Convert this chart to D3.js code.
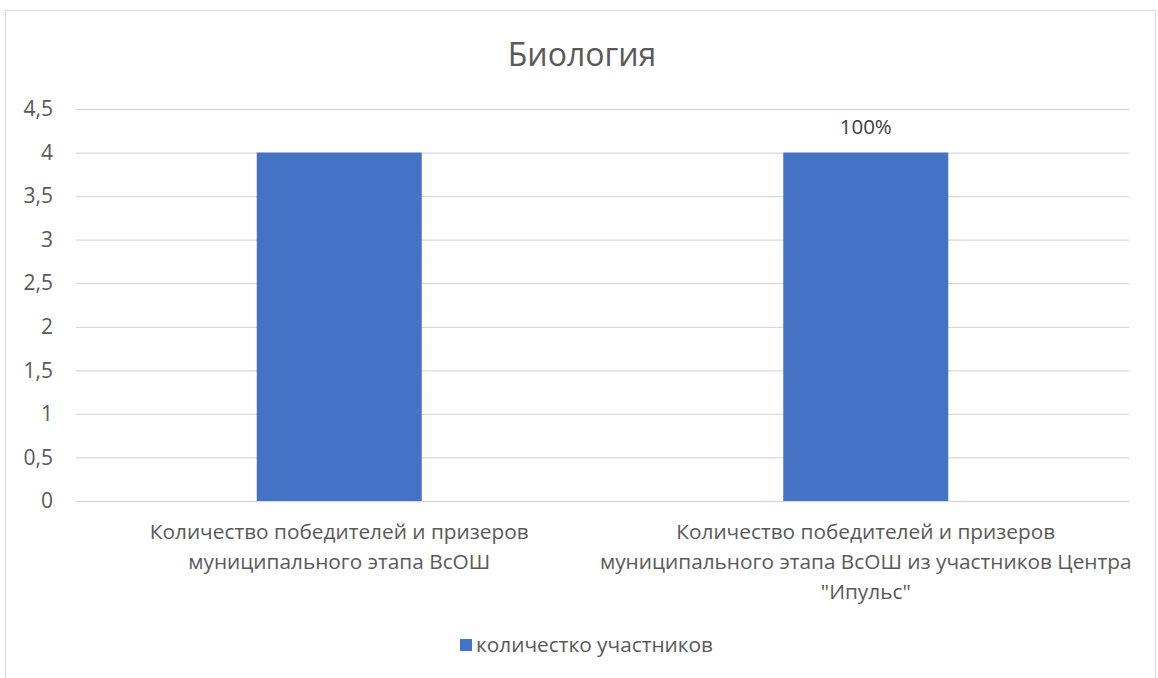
<!DOCTYPE html>
<html>
<head>
<meta charset="utf-8">
<script src="https://cdn.jsdelivr.net/npm/d3@7"></script>
<style>
  html, body { margin: 0; padding: 0; background: #fff; }
  svg { display: block; font-family: "Open Sans", "Noto Sans", sans-serif; }
</style>
</head>
<body>
<svg id="chart" width="1158" height="678"></svg>
<script>
// Chart content
const chartTitle = "Биология";
const categories = [
  ["Количество победителей и призеров", "муниципального этапа ВсОШ"],
  ["Количество победителей и призеров", "муниципального этапа ВсОШ из участников Центра", "\"Ипульс\""]
];
const seriesName = "количестко участников";
const seriesValues = [4, 4];
const yTicks = [0, 0.5, 1, 1.5, 2, 2.5, 3, 3.5, 4, 4.5];
// Share label shown above the second bar (second value relative to the first)
const labelledIndex = 1;

const svg = d3.select("#chart");
const textColor = "#595959";
const gridColor = "#d9d9d9";
const barColor = "#4472c4";

// Outer chart frame
svg.append("rect")
  .attr("x", 5.5).attr("y", 10.5)
  .attr("width", 1150).attr("height", 700)
  .attr("fill", "#fff").attr("stroke", gridColor).attr("stroke-width", 1);

const plot = { left: 76, right: 1129, top: 109, bottom: 501 };

const x = d3.scaleBand()
  .domain(d3.range(categories.length))
  .range([plot.left, plot.right])
  .paddingInner(0.6866)
  .paddingOuter(0.3433);

const y = d3.scaleLinear()
  .domain([0, d3.max(yTicks)])
  .range([plot.bottom, plot.top]);

const commaFmt = v => String(v).replace(".", ",");

// Horizontal gridlines and value labels
const yAxis = d3.axisLeft(y)
  .tickValues(yTicks)
  .tickSize(-(plot.right - plot.left))
  .tickPadding(23)
  .tickFormat(commaFmt);

const gy = svg.append("g")
  .attr("transform", `translate(${plot.left},0)`)
  .call(yAxis);
gy.select(".domain").remove();
gy.selectAll(".tick line").attr("stroke", gridColor).attr("stroke-width", 1.3);
gy.selectAll(".tick text")
  .attr("fill", textColor)
  .attr("font-size", 21)
  .attr("font-family", "'Open Sans', sans-serif");

// Bars
svg.append("g").selectAll("rect")
  .data(seriesValues)
  .join("rect")
  .attr("x", (d, i) => x(i))
  .attr("y", d => y(d))
  .attr("width", x.bandwidth())
  .attr("height", d => y(0) - y(d))
  .attr("fill", barColor);

// Data label
const pct = d3.format(".0%");
svg.append("text")
  .attr("x", x(labelledIndex) + x.bandwidth() / 2)
  .attr("y", y(seriesValues[labelledIndex]) - 19)
  .attr("text-anchor", "middle")
  .attr("fill", "#404040")
  .attr("font-size", 20.5)
  .text(pct(seriesValues[labelledIndex] / seriesValues[0]));

// Category labels (wrapped lines)
const catG = svg.append("g").selectAll("text")
  .data(categories)
  .join("text")
  .attr("text-anchor", "middle")
  .attr("fill", textColor)
  .attr("font-size", 20.8)
  .attr("transform", (d, i) => `translate(${x(i) + x.bandwidth() / 2},${plot.bottom + 38})`);
catG.selectAll("tspan")
  .data(d => d)
  .join("tspan")
  .attr("x", 0)
  .attr("dy", (d, i) => i === 0 ? 0 : 30)
  .text(d => d);

// Title
svg.append("text")
  .attr("x", 582)
  .attr("y", 66)
  .attr("text-anchor", "middle")
  .attr("fill", textColor)
  .attr("font-size", 32)
  .text(chartTitle);

// Legend
const legend = svg.append("g").attr("transform", "translate(460,639)");
legend.append("rect").attr("width", 12).attr("height", 12).attr("fill", barColor);
legend.append("text")
  .attr("x", 16).attr("y", 13)
  .attr("fill", textColor)
  .attr("font-size", 20.8)
  .text(seriesName);
</script>
</body>
</html>
